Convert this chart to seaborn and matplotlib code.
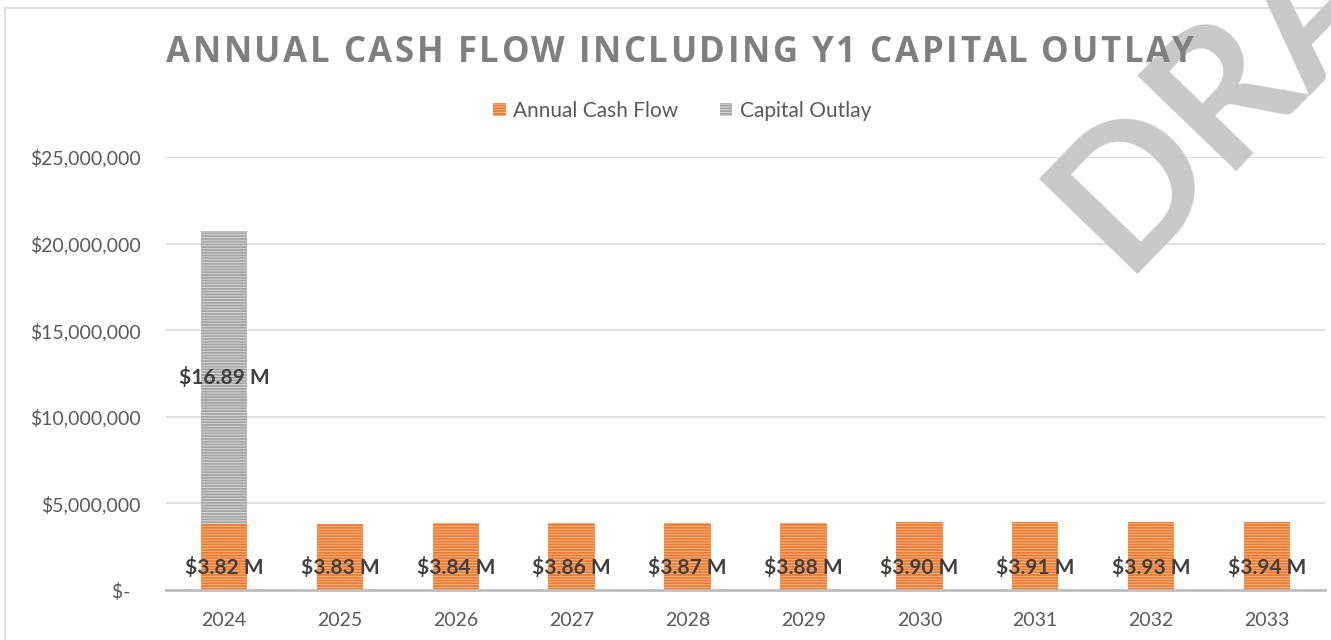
import matplotlib
matplotlib.use('Agg')
import matplotlib.pyplot as plt
import pandas as pd
import seaborn as sns
from matplotlib.patches import Patch, Rectangle
from matplotlib.ticker import FuncFormatter

years = ['2024', '2025', '2026', '2027', '2028', '2029', '2030', '2031', '2032', '2033']
annual_cash_flow = [3.82e6, 3.83e6, 3.84e6, 3.86e6, 3.87e6, 3.88e6, 3.90e6, 3.91e6, 3.93e6, 3.94e6]
capital_outlay = [16.89e6, 0, 0, 0, 0, 0, 0, 0, 0, 0]

ORANGE = '#ed7d31'
ORANGE_STRIPE = '#f6b48a'
GRAY = '#a5a5a5'
GRAY_STRIPE = '#d6d6d6'
TEXT = '#595959'

df = pd.DataFrame({'Year': years, 'Cash': annual_cash_flow, 'Capital': capital_outlay})
df['Total'] = df['Cash'] + df['Capital']

sns.set_theme(style='white')
plt.rcParams['font.family'] = ['Lato', 'DejaVu Sans']
plt.rcParams['hatch.linewidth'] = 0.7

W, H = 1331, 640
fig = plt.figure(figsize=(W / 100, H / 100), dpi=100)
ax = fig.add_axes([166 / W, 1 - 590 / H, (1325 - 166) / W, 433 / H])

sns.barplot(data=df, x='Year', y='Total', color=GRAY, width=0.4, saturation=1, ax=ax)
n = len(ax.patches)
sns.barplot(data=df, x='Year', y='Cash', color=ORANGE, width=0.4, saturation=1, ax=ax)

for p in ax.patches[:n]:
    p.set_hatch('------')
    p.set_edgecolor(GRAY_STRIPE)
    p.set_linewidth(0)
for p in ax.patches[n:]:
    p.set_hatch('------')
    p.set_edgecolor(ORANGE_STRIPE)
    p.set_linewidth(0)

# data labels
for i, (c, k) in enumerate(zip(annual_cash_flow, capital_outlay)):
    ax.annotate(f'${c / 1e6:.2f} M', xy=(i, 0), xytext=(0, 16), textcoords='offset points',
                ha='center', va='center', fontsize=15, fontweight='bold', color='#3f3f3f', zorder=5)
    if k > 0:
        ax.text(i, c + k / 2, f'${k / 1e6:.2f} M', ha='center', va='center',
                fontsize=15, fontweight='bold', color='#3f3f3f', zorder=5)

ax.set_ylim(0, 25e6)
ax.set_xlim(-0.5, len(years) - 0.5)
ax.set_yticks([0, 5e6, 10e6, 15e6, 20e6, 25e6])
ax.yaxis.set_major_formatter(FuncFormatter(lambda v, _: '$-  ' if v == 0 else f'${v:,.0f}'))
ax.grid(axis='y', color='#d9d9d9', linewidth=1.2)
ax.set_axisbelow(True)
for s in ['top', 'right', 'left']:
    ax.spines[s].set_visible(False)
ax.spines['bottom'].set_color('#bfbfbf')
ax.spines['bottom'].set_linewidth(2)
ax.tick_params(axis='both', length=0, labelsize=14, labelcolor=TEXT)
ax.tick_params(axis='y', pad=18)
ax.tick_params(axis='x', pad=16)
ax.set_xlabel('')
ax.set_ylabel('')


def tracked_title(s, left_px, right_px, base_px, **kw):
    # spread letters so the title fills the same width as the reference
    renderer = fig.canvas.get_renderer()

    def width(txt):
        t = fig.text(0, 0, txt, **kw)
        w = t.get_window_extent(renderer).width
        t.remove()
        return w

    ref = width('|')
    offs = [0.0] + [width(s[:i] + '|') - ref for i in range(1, len(s))]
    natural = width(s)
    track = (right_px - left_px - natural) / (len(s) - 1)
    for i, ch in enumerate(s):
        fig.text((left_px + offs[i] + i * track) / W, 1 - base_px / H, ch, ha='left',
                 va='baseline', **kw)


tracked_title('ANNUAL CASH FLOW INCLUDING Y1 CAPITAL OUTLAY', 166, 1192, 62,
              fontsize=25, fontweight='bold', color='#7f7f7f',
              family=['Open Sans', 'DejaVu Sans'], zorder=4)

handles = [Patch(facecolor=ORANGE, edgecolor=ORANGE_STRIPE, hatch='------', linewidth=0),
           Patch(facecolor=GRAY, edgecolor=GRAY_STRIPE, hatch='------', linewidth=0)]
fig.legend(handles, ['Annual Cash Flow', 'Capital Outlay'], loc='center',
           bbox_to_anchor=(682 / W, 1 - 111 / H), ncol=2, frameon=False, fontsize=15,
           handlelength=0.6, handleheight=0.6, handletextpad=0.35, columnspacing=2.0,
           labelcolor=TEXT)

# chart area border
fig.patches.append(Rectangle((5 / W, -0.1), 1.2, 1 - 8 / H + 0.1, transform=fig.transFigure,
                             fill=False, edgecolor='#d9d9d9', linewidth=1.2))

# watermark
fig.text(1122 / W, 1 - 274 / H, 'DRAFT', rotation=46, rotation_mode='anchor', ha='left',
         va='baseline', fontsize=136, fontweight='bold', color='#c9c9c9', zorder=3.5)

fig.savefig('out.png', dpi=100)
